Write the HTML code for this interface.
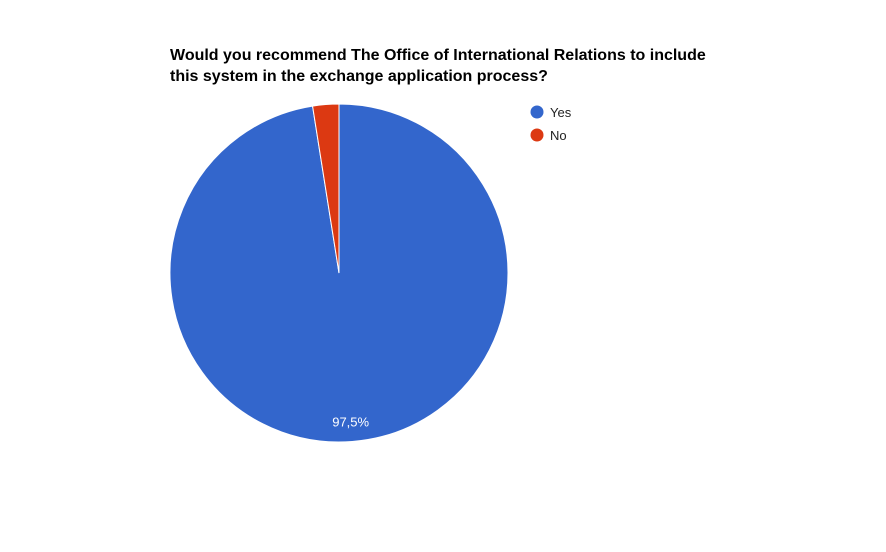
<!DOCTYPE html>
<html><head><meta charset="utf-8"><style>
body{margin:0;background:#fff;width:886px;height:547px;overflow:hidden;font-family:"Liberation Sans",Arial,sans-serif}
</style></head><body>
<svg width="886" height="547">
<text x="170" y="60" font-size="16" font-weight="bold" fill="#000">Would you recommend The Office of International Relations to include</text>
<text x="170" y="81" font-size="16" font-weight="bold" fill="#000">this system in the exchange application process?</text>
<g id="slices"></g>
<g id="legend"></g>
</svg>
<script>
const categories=["Yes","No"];
const values=[97.5,2.5];
const labels=["97,5%",""];
const colors=["#3366cc","#dc3912"];
const cx=339,cy=273,r=169;
const ns="http://www.w3.org/2000/svg";
const g=document.getElementById('slices');
const total=values.reduce((a,b)=>a+b,0);
let a0=0;
values.forEach((v,i)=>{
  const a1=a0+v/total*2*Math.PI;
  const p=t=>[cx+r*Math.sin(t),cy-r*Math.cos(t)];
  const [x0,y0]=p(a0),[x1,y1]=p(a1);
  const large=(a1-a0)>Math.PI?1:0;
  const path=document.createElementNS(ns,'path');
  path.setAttribute('d',`M${cx},${cy}L${x0},${y0}A${r},${r} 0 ${large} 1 ${x1},${y1}Z`);
  path.setAttribute('fill',colors[i]);
  path.setAttribute('stroke','#fff');
  path.setAttribute('stroke-width','1');
  
  
  g.appendChild(path);
  if(labels[i]){
    const m=(a0+a1)/2;
    const t=document.createElementNS(ns,'text');
    t.setAttribute('x',cx+r*0.88*Math.sin(m));
    t.setAttribute('y',cy-r*0.88*Math.cos(m)+5);
    t.setAttribute('text-anchor','middle');
    t.setAttribute('font-size','13');
    t.setAttribute('fill','#fff');
    t.textContent=labels[i];
    
    
    g.appendChild(t);
  }
  a0=a1;
});
const lg=document.getElementById('legend');
categories.forEach((c,i)=>{
  const y=112+i*23;
  const ci=document.createElementNS(ns,'circle');
  ci.setAttribute('cx',537);ci.setAttribute('cy',y);ci.setAttribute('r',6.5);ci.setAttribute('fill',colors[i]);
  
  
  lg.appendChild(ci);
  const t=document.createElementNS(ns,'text');
  t.setAttribute('x',550);t.setAttribute('y',y+5);t.setAttribute('font-size','13');t.setAttribute('fill','#222');
  t.textContent=c;
  
  
  lg.appendChild(t);
});
</script>
</body></html>
